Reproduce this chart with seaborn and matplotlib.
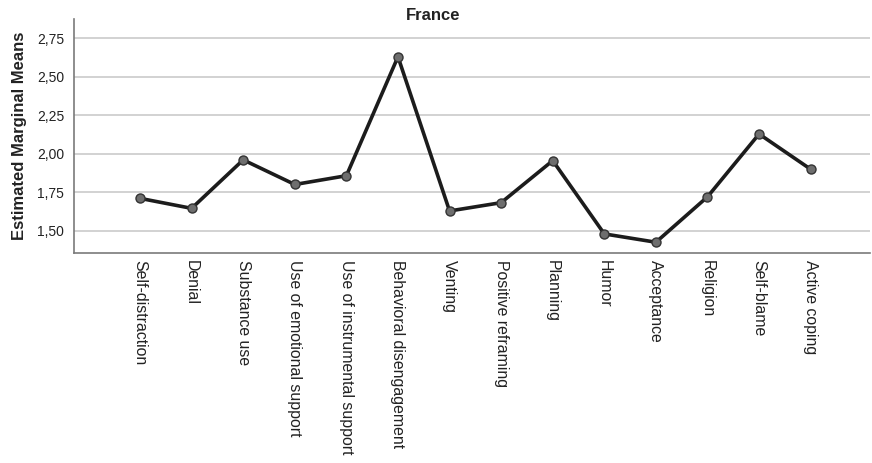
import matplotlib
matplotlib.use("Agg")
import matplotlib.pyplot as plt
import seaborn as sns
import pandas as pd
from matplotlib.ticker import FixedLocator, FuncFormatter

# Coping strategies and their estimated marginal means (France)
strategies = [
    "Self-distraction", "Denial", "Substance use", "Use of emotional support",
    "Use of instrumental support", "Behavioral disengagement", "Venting",
    "Positive reframing", "Planning", "Humor", "Acceptance", "Religion",
    "Self-blame", "Active coping",
]
means = [1.71, 1.645, 1.96, 1.80, 1.857, 2.63, 1.628, 1.682, 1.955,
         1.479, 1.425, 1.72, 2.128, 1.899]
y_ticks = [1.50, 1.75, 2.00, 2.25, 2.50, 2.75]
title = "France"
y_title = "Estimated Marginal Means"

sns.set_style("white")
plt.rcParams["font.family"] = ["Liberation Sans", "DejaVu Sans"]

df = pd.DataFrame({"strategy": strategies, "mean": means})

fig = plt.figure(figsize=(8.72, 4.63), dpi=100)
ax = fig.add_axes([74 / 872, 1 - 253 / 463, (870 - 74) / 872, (253 - 19) / 463])

sns.lineplot(data=df, x="strategy", y="mean", sort=False, ax=ax,
             color="#1c1c1c", linewidth=2.6, marker="o", markersize=6.5,
             markerfacecolor="#6e6e6e", markeredgecolor="#333333",
             markeredgewidth=1.0, zorder=3)

ax.set_xlim(-1.28, 14.15)
ax.set_ylim(1.355, 2.875)
ax.yaxis.set_major_locator(FixedLocator(y_ticks))
ax.yaxis.set_major_formatter(FuncFormatter(lambda v, p: f"{v:.2f}".replace(".", ",")))
ax.grid(axis="y", color="#d2d2d2", linewidth=1.4, zorder=0)
ax.grid(axis="x", visible=False)
ax.set_axisbelow(True)

for side in ("top", "right"):
    ax.spines[side].set_visible(False)
for side in ("left", "bottom"):
    ax.spines[side].set_color("#7a7a7a")
    ax.spines[side].set_linewidth(1.2)

ax.tick_params(axis="both", length=0, colors="#222222")
ax.tick_params(axis="y", labelsize=10, pad=7)
ax.tick_params(axis="x", labelsize=11.4, pad=5, labelrotation=270)
for lab in ax.get_xticklabels():
    lab.set_verticalalignment("top")
    lab.set_horizontalalignment("center")

ax.set_xlabel("")
ax.set_ylabel(y_title, fontsize=12, fontweight="bold", color="#222222", labelpad=7)
fig.text(433 / 872, 1 - 16 / 463, title, ha="center", va="center",
         fontsize=12, fontweight="bold", color="#222222")

fig.savefig("out.png", dpi=100)
